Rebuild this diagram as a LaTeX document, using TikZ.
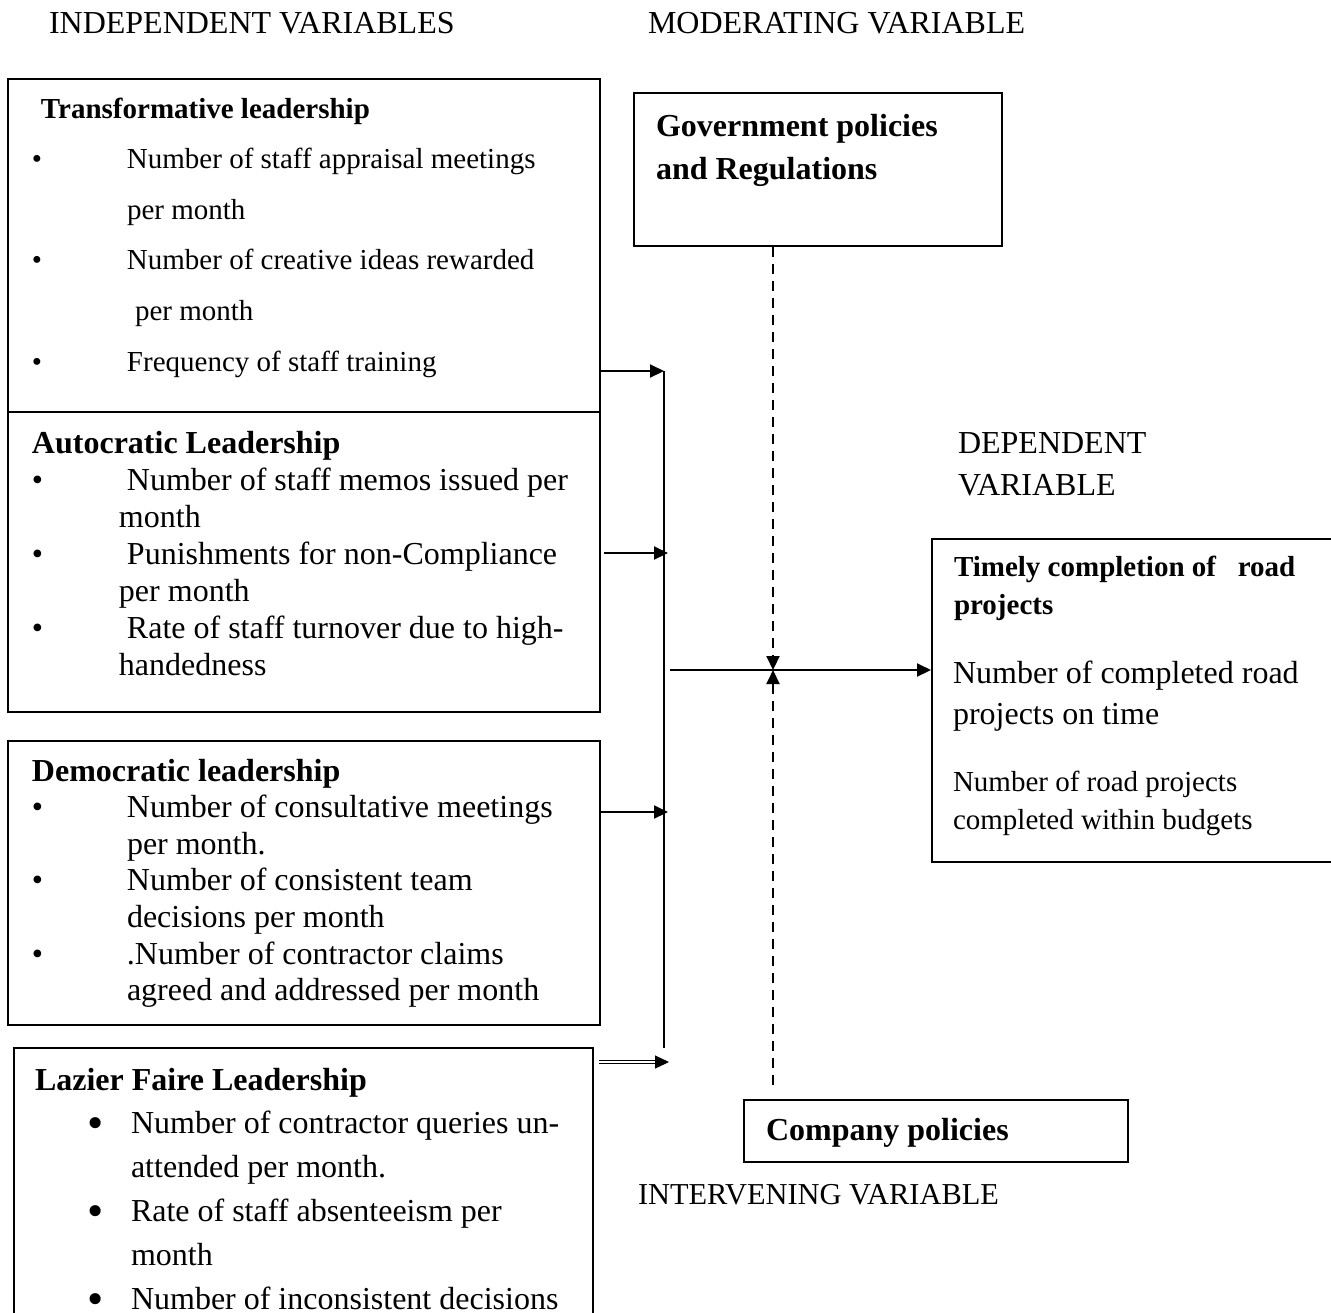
\documentclass[tikz,border=0pt]{standalone}
\usepackage{fontspec}
\setmainfont{Liberation Serif}
\usetikzlibrary{arrows.meta,fit}

\begin{document}
\begin{tikzpicture}[x=0.5pt,y=-0.5pt,line width=1pt,>={Triangle[length=7pt,width=6.5pt]},
	box/.style={draw,inner sep=0pt},
	txt/.style={anchor=north west,inner sep=0pt,align=left},
	head/.style={anchor=base west,inner sep=0pt,font=\fontsize{16}{21}\selectfont},
	modline/.style={dash pattern=on 5pt off 3.5pt}]
	\useasboundingbox (0,0) rectangle (1331,1312);
	\clip (0,0) rectangle (1331,1312);
	\coordinate (trunkT) at (664,371);
	\coordinate (trunkB) at (664,1048);
	\coordinate (inA) at (668,553);
	\coordinate (inD) at (668,812);
	\coordinate (inL) at (669,1062);
	\coordinate (hub) at (670,670);
	\coordinate (cross) at (773,670);
	\coordinate (cpTop) at (773,1085);
	\node[box,fit={(8,79) (600,412)}] (trans) {};
	\node[box,fit={(8,412) (600,712)}] (auto) {};
	\node[box,fit={(8,741) (600,1025)}] (demo) {};
	\node[box,fit={(14,1048) (593,1360)}] (laz) {};
	\node[box,fit={(634,93) (1002,246)}] (gov) {};
	\node[box,fit={(744,1100) (1128,1162)}] (comp) {};
	\node[box,fit={(932,539) (1345,862)}] (dep) {};
	\node[head] (indep) at (48,33) {INDEPENDENT VARIABLES};
	\node[head] (moder) at (647,33) {MODERATING VARIABLE};
	\node[txt,font=\fontsize{16}{21}\selectfont] (depv) at (957,428) {\rule{0pt}{12pt}DEPENDENT\\VARIABLE};
	\node[head,font=\fontsize{15.2}{18}\selectfont] (interv) at (637,1204) {INTERVENING VARIABLE};
	\node[txt,font=\fontsize{14.5}{25.3}\selectfont] (transtxt) at (31,95) {\rule{0pt}{11pt}\hspace*{4.5pt}\textbf{Transformative leadership}\\
		\makebox[47.5pt][l]{•}Number of staff appraisal meetings\\
		\hspace*{47.5pt}per month\\
		\makebox[47.5pt][l]{•}Number of creative ideas rewarded\\
		\hspace*{51.5pt}per month\\
		\makebox[47.5pt][l]{•}Frequency of staff training};
	\node[txt,font=\fontsize{16}{18.5}\selectfont] (autotxt) at (31,428) {\rule{0pt}{12pt}\textbf{Autocratic Leadership}\\
		\makebox[43.5pt][l]{•}\ Number of staff memos issued per\\
		\hspace*{43.5pt}month\\
		\makebox[43.5pt][l]{•}\ Punishments for non-Compliance\\
		\hspace*{43.5pt}per month\\
		\makebox[43.5pt][l]{•}\ Rate of staff turnover due to high-\\
		\hspace*{43.5pt}handedness};
	\node[txt,font=\fontsize{16}{18.3}\selectfont] (demotxt) at (31,756) {\rule{0pt}{12pt}\textbf{Democratic leadership}\\
		\makebox[47.5pt][l]{•}Number of consultative meetings\\
		\hspace*{47.5pt}per month.\\
		\makebox[47.5pt][l]{•}Number of consistent team\\
		\hspace*{47.5pt}decisions per month\\
		\makebox[47.5pt][l]{•}.Number of contractor claims\\
		\hspace*{47.5pt}agreed and addressed per month};
	\node[txt,font=\fontsize{16}{21.9}\selectfont] (laztxt) at (34,1065) {\rule{0pt}{12pt}\textbf{Lazier Faire Leadership}\\
		\hspace*{26pt}\makebox[22pt][l]{\raisebox{-2.5pt}{\scalebox{1.45}{•}}}Number of contractor queries un-\\
		\hspace*{48pt}attended per month.\\
		\hspace*{26pt}\makebox[22pt][l]{\raisebox{-2.5pt}{\scalebox{1.45}{•}}}Rate of staff absenteeism per\\
		\hspace*{48pt}month\\
		\hspace*{26pt}\makebox[22pt][l]{\raisebox{-2.5pt}{\scalebox{1.45}{•}}}Number of inconsistent decisions};
	\node[txt,font=\bfseries\fontsize{16}{21.5}\selectfont] (govtxt) at (655,111) {\rule{0pt}{12pt}Government policies\\and Regulations};
	\node[head,font=\bfseries\fontsize{16}{21}\selectfont] (comptxt) at (765,1140) {Company policies};
	\node[txt,font=\bfseries\fontsize{14.5}{19}\selectfont] (deptitle) at (953,553) {\rule{0pt}{11pt}Timely completion of\ \ \ road\\projects};
	\node[txt,font=\fontsize{16}{20.5}\selectfont] (depone) at (952,658) {\rule{0pt}{12pt}Number of completed road\\projects on time};
	\node[txt,font=\fontsize{14.5}{19}\selectfont] (deptwo) at (952,768) {\rule{0pt}{11pt}Number of road projects\\completed within budgets};
	\draw (trunkT) -- (trunkB);
	\draw[->] (trans.east |- trunkT) -- (trunkT);
	\draw[->,shorten <=1.5pt] (auto.east |- inA) -- (inA);
	\draw[->] (demo.east |- inD) -- (inD);
	\draw[->,double,double distance=0.8pt,line width=0.6pt,shorten <=2.5pt] (laz.east |- inL) -- (inL);
	\draw[->] (hub) -- (hub -| dep.west);
	\draw[->,modline] (cross |- gov.south) -- (cross);
	\draw[->,modline] (cpTop) -- (cross);
\end{tikzpicture}
\end{document}
